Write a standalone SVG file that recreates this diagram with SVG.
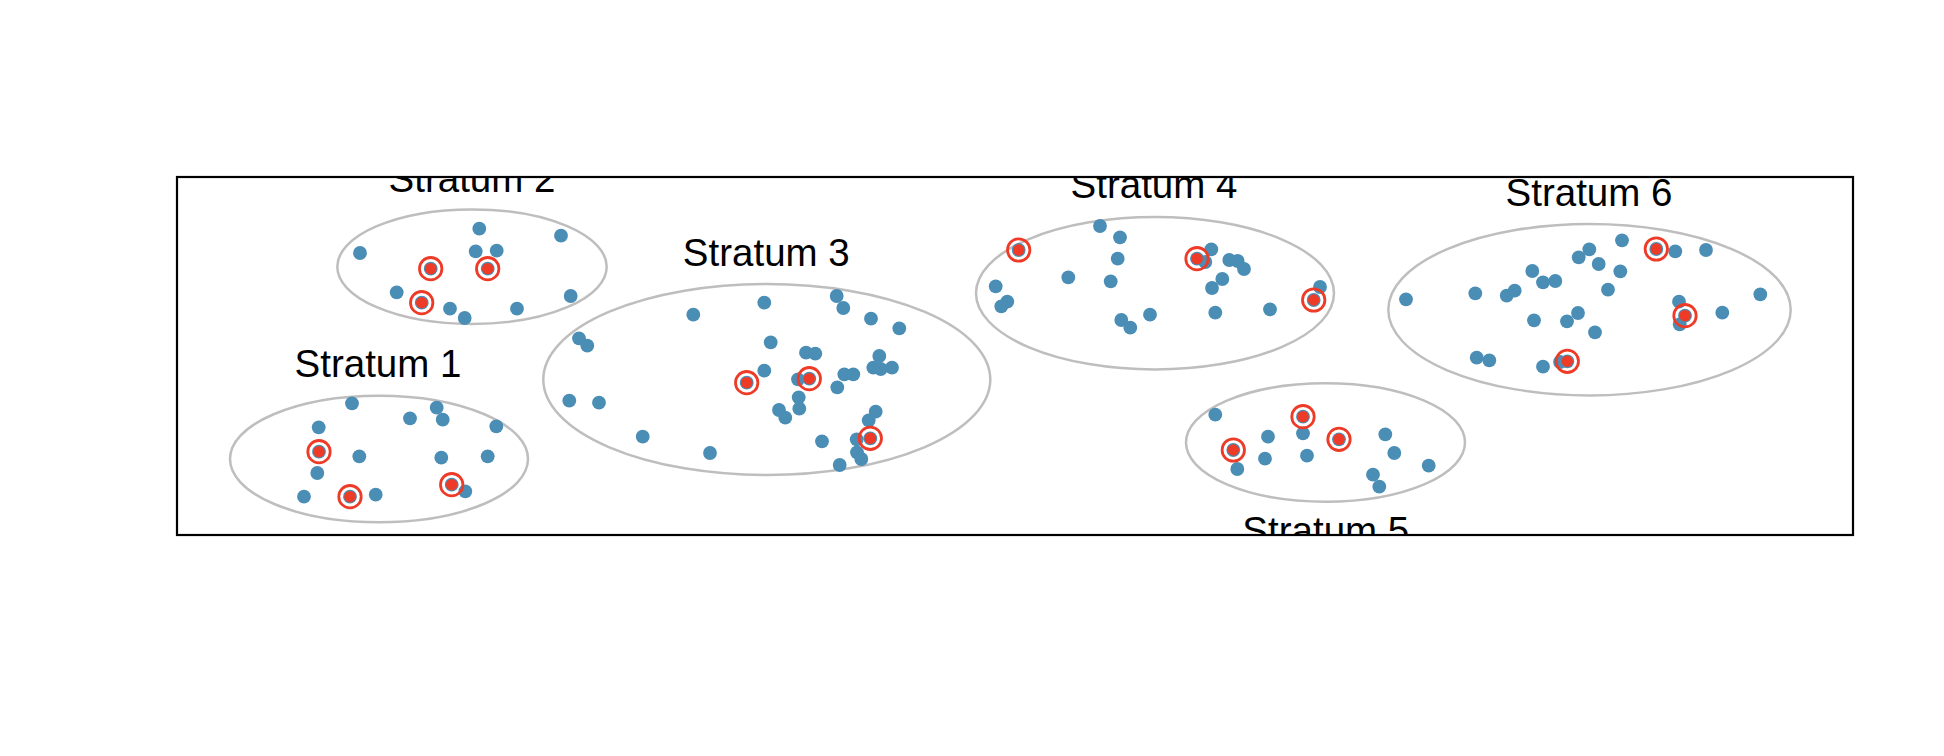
<svg xmlns="http://www.w3.org/2000/svg" xmlns:xlink="http://www.w3.org/1999/xlink" width="1944" height="756" viewBox="0 0 1944 756">
<style>
.d{fill:#4A8DB5}
.s{fill:#EE3B28}
.r{fill:none;stroke:#EE3B28;stroke-width:2.8}
.e{fill:none;stroke:#BEBEBE;stroke-width:2.5}
.t{font-family:"Liberation Sans",Arial,sans-serif;font-size:38.5px;fill:#000;text-anchor:middle}
circle.d{r:6.9px}
</style>
<defs>
<clipPath id="box"><rect x="177" y="177" width="1676" height="358"/></clipPath>
<g id="pick"><circle class="s" r="5.8"/><circle class="r" r="11.2"/></g>
</defs>
<rect width="1944" height="756" fill="#fff"/>
<g clip-path="url(#box)">
<g id="stratum1">
<ellipse class="e" cx="379" cy="459" rx="149" ry="63.3"/>
<text class="t" x="378" y="377">Stratum 1</text>
<g>
<circle class="d" r="6.9" cx="352" cy="403.3"/>
<circle class="d" r="6.9" cx="436.7" cy="407.7"/>
<circle class="d" r="6.9" cx="410" cy="418.3"/>
<circle class="d" r="6.9" cx="442.7" cy="419.7"/>
<circle class="d" r="6.9" cx="318.7" cy="427.3"/>
<circle class="d" r="6.9" cx="496.3" cy="426.3"/>
<circle class="d" r="6.9" cx="319" cy="451.7"/>
<circle class="d" r="6.9" cx="359.3" cy="456.3"/>
<circle class="d" r="6.9" cx="441.3" cy="457.7"/>
<circle class="d" r="6.9" cx="487.7" cy="456.3"/>
<circle class="d" r="6.9" cx="317.3" cy="473"/>
<circle class="d" r="6.9" cx="465.3" cy="491.3"/>
<circle class="d" r="6.9" cx="451.7" cy="484.7"/>
<circle class="d" r="6.9" cx="304" cy="496.7"/>
<circle class="d" r="6.9" cx="350" cy="496.7"/>
<circle class="d" r="6.9" cx="375.7" cy="494.7"/>
<use xlink:href="#pick" x="319" y="451.7"/>
<use xlink:href="#pick" x="451.7" y="484.7"/>
<use xlink:href="#pick" x="350" y="496.7"/>
</g>
</g>
<g id="stratum2">
<ellipse class="e" cx="472" cy="266.7" rx="134.7" ry="57.3"/>
<text class="t" x="472" y="192">Stratum 2</text>
<g>
<circle class="d" r="6.9" cx="479.3" cy="228.7"/>
<circle class="d" r="6.9" cx="561" cy="235.7"/>
<circle class="d" r="6.9" cx="360" cy="253"/>
<circle class="d" r="6.9" cx="475.7" cy="251.3"/>
<circle class="d" r="6.9" cx="496.7" cy="250.7"/>
<circle class="d" r="6.9" cx="430.7" cy="268.7"/>
<circle class="d" r="6.9" cx="487.7" cy="268.7"/>
<circle class="d" r="6.9" cx="396.7" cy="292.3"/>
<circle class="d" r="6.9" cx="421.7" cy="302.7"/>
<circle class="d" r="6.9" cx="450" cy="308.7"/>
<circle class="d" r="6.9" cx="464.7" cy="318"/>
<circle class="d" r="6.9" cx="517" cy="308.7"/>
<circle class="d" r="6.9" cx="570.7" cy="296"/>
<use xlink:href="#pick" x="430.7" y="268.7"/>
<use xlink:href="#pick" x="487.7" y="268.7"/>
<use xlink:href="#pick" x="421.7" y="302.7"/>
</g>
</g>
<g id="stratum3">
<ellipse class="e" cx="766.8" cy="379.5" rx="223.5" ry="95.5"/>
<text class="t" x="766.3" y="266">Stratum 3</text>
<g>
<circle class="d" r="6.9" cx="764.3" cy="302.7"/>
<circle class="d" r="6.9" cx="693.3" cy="314.7"/>
<circle class="d" r="6.9" cx="836.7" cy="296"/>
<circle class="d" r="6.9" cx="843.3" cy="308"/>
<circle class="d" r="6.9" cx="871" cy="318.7"/>
<circle class="d" r="6.9" cx="899.3" cy="328.3"/>
<circle class="d" r="6.9" cx="579" cy="338.3"/>
<circle class="d" r="6.9" cx="587.3" cy="345.7"/>
<circle class="d" r="6.9" cx="770.7" cy="342.3"/>
<circle class="d" r="6.9" cx="806" cy="352.7"/>
<circle class="d" r="6.9" cx="815.3" cy="353.7"/>
<circle class="d" r="6.9" cx="879.3" cy="356"/>
<circle class="d" r="6.9" cx="764.3" cy="370.7"/>
<circle class="d" r="6.9" cx="873.3" cy="367.7"/>
<circle class="d" r="6.9" cx="880.7" cy="369"/>
<circle class="d" r="6.9" cx="892" cy="367.7"/>
<circle class="d" r="6.9" cx="746.7" cy="382.7"/>
<circle class="d" r="6.9" cx="798" cy="379.3"/>
<circle class="d" r="6.9" cx="809.3" cy="378.7"/>
<circle class="d" r="6.9" cx="844.3" cy="374.3"/>
<circle class="d" r="6.9" cx="853.3" cy="374.3"/>
<circle class="d" r="6.9" cx="837.3" cy="387.3"/>
<circle class="d" r="6.9" cx="569.3" cy="400.7"/>
<circle class="d" r="6.9" cx="599" cy="402.7"/>
<circle class="d" r="6.9" cx="798.7" cy="397.3"/>
<circle class="d" r="6.9" cx="799.3" cy="408.7"/>
<circle class="d" r="6.9" cx="779" cy="410"/>
<circle class="d" r="6.9" cx="785.3" cy="417.7"/>
<circle class="d" r="6.9" cx="875.7" cy="411.7"/>
<circle class="d" r="6.9" cx="868.7" cy="420.3"/>
<circle class="d" r="6.9" cx="642.7" cy="436.7"/>
<circle class="d" r="6.9" cx="822" cy="441.3"/>
<circle class="d" r="6.9" cx="856.7" cy="439.3"/>
<circle class="d" r="6.9" cx="870.3" cy="438.3"/>
<circle class="d" r="6.9" cx="710" cy="453"/>
<circle class="d" r="6.9" cx="857" cy="452.3"/>
<circle class="d" r="6.9" cx="861.3" cy="459"/>
<circle class="d" r="6.9" cx="839.7" cy="465"/>
<use xlink:href="#pick" x="746.7" y="382.7"/>
<use xlink:href="#pick" x="809.3" y="378.7"/>
<use xlink:href="#pick" x="870.3" y="438.3"/>
</g>
</g>
<g id="stratum4">
<ellipse class="e" cx="1155" cy="293.2" rx="179" ry="76.2"/>
<text class="t" x="1154" y="198.3">Stratum 4</text>
<g>
<circle class="d" r="6.9" cx="1100" cy="226"/>
<circle class="d" r="6.9" cx="1120" cy="237.3"/>
<circle class="d" r="6.9" cx="1018.7" cy="250"/>
<circle class="d" r="6.9" cx="1117.7" cy="258.7"/>
<circle class="d" r="6.9" cx="1211.3" cy="249.3"/>
<circle class="d" r="6.9" cx="1205.3" cy="262"/>
<circle class="d" r="6.9" cx="1197" cy="258.7"/>
<circle class="d" r="6.9" cx="1229.3" cy="260"/>
<circle class="d" r="6.9" cx="1237.7" cy="261"/>
<circle class="d" r="6.9" cx="1244" cy="269"/>
<circle class="d" r="6.9" cx="1068.3" cy="277.3"/>
<circle class="d" r="6.9" cx="1110.7" cy="281.3"/>
<circle class="d" r="6.9" cx="1222.3" cy="279"/>
<circle class="d" r="6.9" cx="1212" cy="288"/>
<circle class="d" r="6.9" cx="995.7" cy="286.3"/>
<circle class="d" r="6.9" cx="1007.3" cy="301.7"/>
<circle class="d" r="6.9" cx="1001.3" cy="306.3"/>
<circle class="d" r="6.9" cx="1320" cy="287"/>
<circle class="d" r="6.9" cx="1313.7" cy="300"/>
<circle class="d" r="6.9" cx="1270" cy="309.3"/>
<circle class="d" r="6.9" cx="1215.3" cy="312.7"/>
<circle class="d" r="6.9" cx="1150" cy="314.7"/>
<circle class="d" r="6.9" cx="1121.3" cy="320"/>
<circle class="d" r="6.9" cx="1130.3" cy="327.7"/>
<use xlink:href="#pick" x="1018.7" y="250"/>
<use xlink:href="#pick" x="1197" y="258.7"/>
<use xlink:href="#pick" x="1313.7" y="300"/>
</g>
</g>
<g id="stratum5">
<ellipse class="e" cx="1325.5" cy="442.5" rx="139.5" ry="59.2"/>
<text class="t" x="1325.8" y="544">Stratum 5</text>
<g>
<circle class="d" r="6.9" cx="1215.3" cy="414.7"/>
<circle class="d" r="6.9" cx="1303" cy="416.7"/>
<circle class="d" r="6.9" cx="1303" cy="433.3"/>
<circle class="d" r="6.9" cx="1268" cy="436.7"/>
<circle class="d" r="6.9" cx="1339" cy="439.3"/>
<circle class="d" r="6.9" cx="1385.3" cy="434.3"/>
<circle class="d" r="6.9" cx="1233.3" cy="450"/>
<circle class="d" r="6.9" cx="1394.3" cy="453"/>
<circle class="d" r="6.9" cx="1265" cy="458.7"/>
<circle class="d" r="6.9" cx="1307" cy="455.7"/>
<circle class="d" r="6.9" cx="1237.3" cy="469"/>
<circle class="d" r="6.9" cx="1428.7" cy="465.7"/>
<circle class="d" r="6.9" cx="1373" cy="474.7"/>
<circle class="d" r="6.9" cx="1379.3" cy="486.7"/>
<use xlink:href="#pick" x="1303" y="416.7"/>
<use xlink:href="#pick" x="1339" y="439.3"/>
<use xlink:href="#pick" x="1233.3" y="450"/>
</g>
</g>
<g id="stratum6">
<ellipse class="e" cx="1589.5" cy="309.7" rx="201.2" ry="85.7"/>
<text class="t" x="1589" y="205.7">Stratum 6</text>
<g>
<circle class="d" r="6.9" cx="1622" cy="240.3"/>
<circle class="d" r="6.9" cx="1656.3" cy="249"/>
<circle class="d" r="6.9" cx="1675.3" cy="251.3"/>
<circle class="d" r="6.9" cx="1706" cy="250"/>
<circle class="d" r="6.9" cx="1589.3" cy="249.3"/>
<circle class="d" r="6.9" cx="1578.7" cy="257.3"/>
<circle class="d" r="6.9" cx="1598.7" cy="264"/>
<circle class="d" r="6.9" cx="1620.3" cy="271.3"/>
<circle class="d" r="6.9" cx="1532.3" cy="271"/>
<circle class="d" r="6.9" cx="1543" cy="282.3"/>
<circle class="d" r="6.9" cx="1555.3" cy="281"/>
<circle class="d" r="6.9" cx="1475.3" cy="293.3"/>
<circle class="d" r="6.9" cx="1506.7" cy="295.7"/>
<circle class="d" r="6.9" cx="1514.7" cy="290.7"/>
<circle class="d" r="6.9" cx="1608" cy="289.7"/>
<circle class="d" r="6.9" cx="1406" cy="299.3"/>
<circle class="d" r="6.9" cx="1760.3" cy="294.3"/>
<circle class="d" r="6.9" cx="1679" cy="301.7"/>
<circle class="d" r="6.9" cx="1679.7" cy="324.3"/>
<circle class="d" r="6.9" cx="1685" cy="315.7"/>
<circle class="d" r="6.9" cx="1722.3" cy="312.7"/>
<circle class="d" r="6.9" cx="1578" cy="313"/>
<circle class="d" r="6.9" cx="1534" cy="320.3"/>
<circle class="d" r="6.9" cx="1567" cy="321.3"/>
<circle class="d" r="6.9" cx="1595" cy="332.3"/>
<circle class="d" r="6.9" cx="1476.7" cy="357.7"/>
<circle class="d" r="6.9" cx="1489.3" cy="360.3"/>
<circle class="d" r="6.9" cx="1543" cy="366.7"/>
<circle class="d" r="6.9" cx="1560" cy="362"/>
<circle class="d" r="6.9" cx="1567.3" cy="361.3"/>
<use xlink:href="#pick" x="1656.3" y="249"/>
<use xlink:href="#pick" x="1685" y="315.7"/>
<use xlink:href="#pick" x="1567.3" y="361.3"/>
</g>
</g>
</g>
<g id="connectors"/>
<rect id="frame" x="177" y="177" width="1676" height="358" fill="none" stroke="#000" stroke-width="2.2"/>
</svg>
